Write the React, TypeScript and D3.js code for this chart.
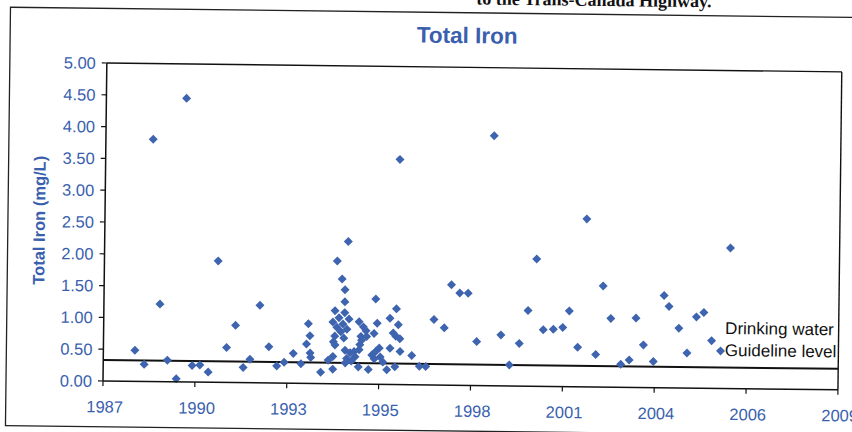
import React from 'react';
import * as d3 from 'd3';

// Sampling dates as decimal years, and total iron (mg/L)
const sampleYear = [
  1988.59, 1988.87, 1989.06, 1989.32, 1989.56, 1989.83, 1990.04, 1990.30, 1990.53, 1990.78,
  1991.04, 1991.32, 1991.58, 1991.82, 1992.02, 1992.30, 1992.58, 1992.82, 1993.04, 1993.31,
  1993.54, 1993.70, 1993.75, 1993.80, 1993.81, 1993.83, 1994.13, 1994.35, 1994.49, 1994.49,
  1994.50, 1994.55, 1994.59, 1994.91, 1994.74, 1994.83, 1994.83,
  1994.54, 1994.83, 1994.66, 1994.96, 1994.48, 1994.78, 1994.60, 1994.90, 1994.72, 1994.54, 1994.81,
  1995.26, 1995.39, 1995.47, 1995.32, 1995.49, 1995.34, 1995.29, 1995.27,
  1994.85, 1995.00, 1995.12, 1994.90, 1995.15, 1994.86, 1995.04, 1995.25, 1995.55,
  1995.75, 1995.80, 1995.71,
  1995.65, 1995.77, 1995.87, 1995.72, 1995.90, 1995.98, 1996.10, 1996.34,
  1996.18, 1996.28, 1996.37, 1996.43, 1996.36, 1996.48, 1996.19, 1996.49, 1996.42,
  1996.84, 1997.07, 1997.26, 1997.49, 1997.80, 1998.00, 1998.25, 1998.50, 1998.77,
  1999.22, 1999.49, 1999.75, 2000.04, 2000.29, 2000.53, 2000.75, 2001.05, 2001.33, 2001.52,
  2001.78, 2002.01, 2002.32, 2002.52, 2002.76, 2003.07, 2003.32, 2003.51, 2003.74, 2004.04,
  2004.34, 2004.49, 2004.79, 2005.04, 2005.31, 2005.53, 2005.77, 2006.04, 2006.30,
];
const totalIron = [
  0.49, 0.27, 3.81, 1.22, 0.34, 0.05, 4.46, 0.26, 0.27, 0.16,
  1.91, 0.55, 0.90, 0.24, 0.37, 1.22, 0.57, 0.27, 0.33, 0.47,
  0.31, 0.62, 0.94, 0.75, 0.48, 0.41, 0.18, 0.37, 0.43, 0.23,
  0.66, 0.61, 1.93, 2.24, 1.65, 1.48, 1.29,
  1.15, 1.12, 1.04, 1.02, 0.97, 0.94, 0.89, 0.86, 0.82, 0.75, 0.72,
  0.98, 0.90, 0.84, 0.75, 0.75, 0.69, 0.62, 0.54,
  0.53, 0.49, 0.51, 0.40, 0.43, 0.33, 0.36, 0.27, 0.23,
  1.34, 0.96, 0.80,
  0.46, 0.52, 0.57, 0.40, 0.43, 0.35, 0.23, 0.28,
  1.04, 0.81, 1.19, 0.94, 0.76, 0.72, 0.57, 0.52, 3.54,
  0.46, 0.29, 0.29, 1.03, 0.90, 1.58, 1.45, 1.45, 0.69,
  3.93, 0.80, 0.33, 0.67, 1.19, 2.00, 0.89, 0.90, 0.93, 1.19,
  0.62, 2.64, 0.51, 1.59, 1.08, 0.36, 0.43, 1.09, 0.67, 0.41,
  1.45, 1.28, 0.94, 0.55, 1.12, 1.19, 0.75, 0.59, 2.21,
];

const yTicks = [0, 0.5, 1, 1.5, 2, 2.5, 3, 3.5, 4, 4.5, 5];
const xTickLabels = ['1987', '1990', '1993', '1995', '1998', '2001', '2004', '2006', '2009'];
const xAxisStart = 1987.65; // decimal year of first tick
const xTickStepDays = 1000;
const guidelineLevel = 0.33;

export default function App() {
  const W = 852, H = 432;
  const m = { left: 103, right: 838, top: 63, bottom: 381 };
  const step = xTickStepDays / 365.25;
  const xTickVals = xTickLabels.map((_, i) => xAxisStart + i * step);
  const x = d3.scaleLinear().domain([xTickVals[0], xTickVals[xTickVals.length - 1]]).range([m.left, m.right]);
  const y = d3.scaleLinear().domain([0, 5]).range([m.bottom, m.top]);
  const blue = '#3a5fae';
  const font = '"Liberation Sans", Arial, sans-serif';
  const r = 4.5;
  const diamond = `M0,${-r}L${r},0L0,${r}L${-r},0Z`;
  const pts = sampleYear.map((yr, i) => ({ yr, v: totalIron[i] }));

  return (
    <svg width={W} height={H} style={{ position: 'absolute', left: 0, top: 0, background: '#fff' }}>
      <defs>
        <clipPath id="plotClip">
          <rect x={m.left} y={m.top} width={m.right - m.left} height={m.bottom - m.top} />
        </clipPath>
      </defs>
      <g transform="rotate(0.69 103 381)">
        <text x={707} y={0} textAnchor="end" fontFamily='"Liberation Serif", "Times New Roman", serif'
          fontWeight="bold" fontSize={18} fill="#111">to the Trans-Canada Highway.</text>
        <rect x={6} y={8.4} width={900} height={418.4} fill="none" stroke="#222" strokeWidth={1.3} />

        <text x={463} y={38.8} textAnchor="middle" fontFamily={font} fontWeight="bold" fontSize={22.5} fill={blue}>Total Iron</text>
        <text transform={`translate(43,221) rotate(-90)`} textAnchor="middle" fontFamily={font}
          fontWeight="bold" fontSize={16.5} fill={blue}>Total Iron (mg/L)</text>

        {/* plot border */}
        <line x1={m.left} x2={m.right} y1={m.top} y2={m.top} stroke="#111" strokeWidth={1.4} />
        <line x1={m.right} x2={m.right} y1={m.top} y2={m.bottom} stroke="#111" strokeWidth={1.4} />

        {/* guideline */}
        <line x1={m.left} x2={m.right} y1={y(guidelineLevel)} y2={y(guidelineLevel)} stroke="#111" strokeWidth={2} />

        {/* points */}
        {pts.map((p, i) => (
          <path key={i} d={diamond} transform={`translate(${x(p.yr)},${y(p.v)})`} fill="#3e64b0" />
        ))}

        {/* annotation */}
        <g clipPath="url(#plotClip)">
          <text x={724.5} y={326.5} fontFamily={font} fontSize={17} fill="#111">Drinking water</text>
          <text x={724.5} y={348.5} fontFamily={font} fontSize={17} fill="#111">Guideline level</text>
        </g>

        {/* axes */}
        <line x1={m.left} x2={m.left} y1={m.top} y2={m.bottom} stroke="#111" strokeWidth={1.5} />
        <line x1={m.left} x2={m.right} y1={m.bottom} y2={m.bottom} stroke="#111" strokeWidth={1.5} />
        {yTicks.map((t) => (
          <g key={t}>
            <line x1={m.left - 5} x2={m.left} y1={y(t)} y2={y(t)} stroke="#111" strokeWidth={1.2} />
            <text x={92} y={y(t)} dy="0.36em" textAnchor="end" fontFamily={font} fontSize={16.5} fill={blue}>
              {t.toFixed(2)}
            </text>
          </g>
        ))}
        {xTickVals.map((t, i) => (
          <g key={i}>
            <line x1={x(t)} x2={x(t)} y1={m.bottom} y2={m.bottom + 5} stroke="#111" strokeWidth={1.2} />
            <text x={x(t) + 2} y={412.5} textAnchor="middle" fontFamily={font} fontSize={16.5} fill={blue}>
              {xTickLabels[i]}
            </text>
          </g>
        ))}
      </g>
    </svg>
  );
}
